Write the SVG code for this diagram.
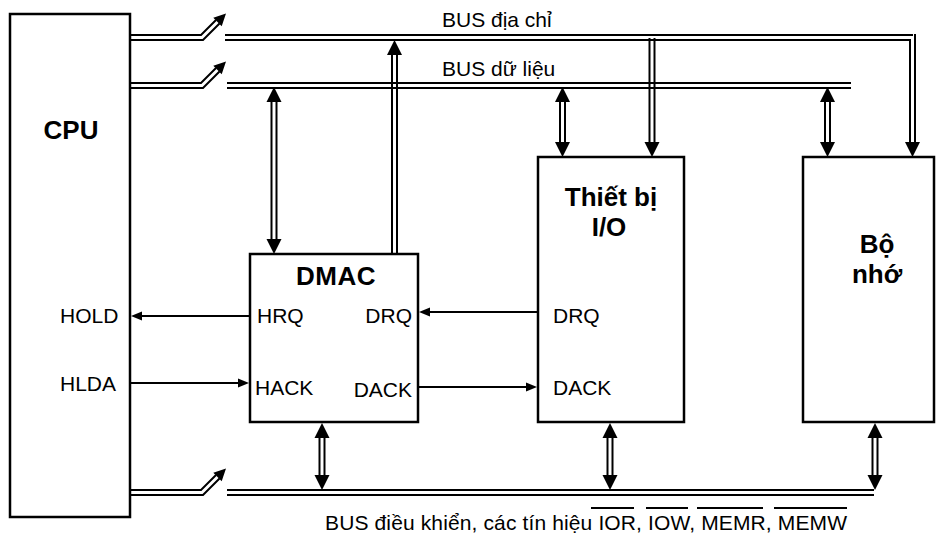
<svg xmlns="http://www.w3.org/2000/svg" xmlns:xlink="http://www.w3.org/1999/xlink" width="936" height="535" viewBox="0 0 936 535">
<style>
.ln{stroke:#000;stroke-width:2;fill:none}
.box{fill:#fff;stroke:#000;stroke-width:2.5}
.hd{fill:#000;stroke:none}
.t{font-family:"Liberation Sans",Arial,sans-serif;font-size:21px;fill:#000}
.tb{font-family:"Liberation Sans",Arial,sans-serif;font-size:26px;font-weight:bold;fill:#000}
</style>
<defs>
<polygon id="hu" class="hd" points="0,0 -7.5,15 7.5,15"/>
<polygon id="hdn" class="hd" points="0,0 -7.5,-15 7.5,-15"/>
<polygon id="hl" class="hd" points="0,0 11,-4.5 11,4.5"/>
<polygon id="hr" class="hd" points="0,0 -11,-4.5 -11,4.5"/>
<g id="stub">
<polyline class="ln" points="130,35 201,35 216,20"/>
<polyline class="ln" points="130,40 203,40 219.5,23.5"/>
<polygon class="hd" points="226,13.5 213.3,17.8 221.7,26.2"/>
</g>
</defs>
<g id="cpu">
<rect class="box" x="10" y="14" width="120" height="503"/>
<text class="tb" x="71" y="139" text-anchor="middle">CPU</text>
<text class="t" x="60" y="323">HOLD</text>
<text class="t" x="60" y="391">HLDA</text>
</g>
<g id="dmac">
<rect class="box" x="250" y="254" width="168" height="168"/>
<text class="tb" x="336" y="285" text-anchor="middle" letter-spacing="0.5">DMAC</text>
<text class="t" x="257" y="323">HRQ</text>
<text class="t" x="412" y="323" text-anchor="end">DRQ</text>
<text class="t" x="255" y="395">HACK</text>
<text class="t" x="412" y="397" text-anchor="end">DACK</text>
</g>
<g id="io">
<rect class="box" x="538" y="157" width="146" height="265"/>
<text class="tb" x="611" y="206" text-anchor="middle">Thiết bị</text>
<text class="tb" x="609" y="236" text-anchor="middle">I/O</text>
<text class="t" x="553" y="323">DRQ</text>
<text class="t" x="553" y="395">DACK</text>
</g>
<g id="mem">
<rect class="box" x="803" y="157" width="131" height="265"/>
<text class="tb" x="877" y="253" text-anchor="middle">Bộ</text>
<text class="tb" x="877" y="283" text-anchor="middle">nhớ</text>
</g>
<g id="connectors">
<use xlink:href="#stub"/>
<line class="ln" x1="225" y1="35" x2="913" y2="35"/>
<line class="ln" x1="225" y1="40" x2="910" y2="40"/>
<use xlink:href="#stub" transform="translate(0,48)"/>
<line class="ln" x1="227" y1="83" x2="851" y2="83"/>
<line class="ln" x1="227" y1="88" x2="851" y2="88"/>
<use xlink:href="#stub" transform="translate(0,455)"/>
<line class="ln" x1="227" y1="490" x2="874" y2="490"/>
<line class="ln" x1="227" y1="495" x2="874" y2="495"/>
<line class="ln" x1="271.5" y1="100" x2="271.5" y2="241"/>
<line class="ln" x1="276.5" y1="100" x2="276.5" y2="241"/>
<use xlink:href="#hu" x="274" y="87"/>
<use xlink:href="#hdn" x="274" y="254"/>
<line class="ln" x1="392" y1="53" x2="392" y2="254"/>
<line class="ln" x1="397" y1="53" x2="397" y2="254"/>
<use xlink:href="#hu" x="394.5" y="40"/>
<line class="ln" x1="560" y1="100" x2="560" y2="144"/>
<line class="ln" x1="565" y1="100" x2="565" y2="144"/>
<use xlink:href="#hu" x="562.5" y="87"/>
<use xlink:href="#hdn" x="562.5" y="157"/>
<line class="ln" x1="649.5" y1="38" x2="649.5" y2="144"/>
<line class="ln" x1="654.5" y1="38" x2="654.5" y2="144"/>
<use xlink:href="#hdn" x="652" y="157"/>
<line class="ln" x1="825" y1="100" x2="825" y2="144"/>
<line class="ln" x1="830" y1="100" x2="830" y2="144"/>
<use xlink:href="#hu" x="827.5" y="87"/>
<use xlink:href="#hdn" x="827.5" y="157"/>
<line class="ln" x1="910" y1="39" x2="910" y2="144"/>
<line class="ln" x1="915" y1="34" x2="915" y2="144"/>
<use xlink:href="#hdn" x="912.5" y="157"/>
<line class="ln" x1="319.5" y1="436" x2="319.5" y2="477"/>
<line class="ln" x1="324.5" y1="436" x2="324.5" y2="477"/>
<use xlink:href="#hu" x="322" y="423"/>
<use xlink:href="#hdn" x="322" y="490"/>
<line class="ln" x1="607.5" y1="436" x2="607.5" y2="477"/>
<line class="ln" x1="612.5" y1="436" x2="612.5" y2="477"/>
<use xlink:href="#hu" x="610" y="423"/>
<use xlink:href="#hdn" x="610" y="490"/>
<line class="ln" x1="872.5" y1="436" x2="872.5" y2="477"/>
<line class="ln" x1="877.5" y1="436" x2="877.5" y2="477"/>
<use xlink:href="#hu" x="875" y="423"/>
<use xlink:href="#hdn" x="875" y="490"/>
<line class="ln" x1="250" y1="316" x2="140" y2="316"/>
<use xlink:href="#hl" x="131" y="316"/>
<line class="ln" x1="131" y1="383" x2="240" y2="383"/>
<use xlink:href="#hr" x="249" y="383"/>
<line class="ln" x1="538" y1="312" x2="428" y2="312"/>
<use xlink:href="#hl" x="419" y="312"/>
<line class="ln" x1="419" y1="387" x2="528" y2="387"/>
<use xlink:href="#hr" x="537" y="387"/>
</g>
<g id="labels">
<text class="t" x="442" y="27">BUS địa chỉ</text>
<text class="t" x="442" y="76">BUS dữ liệu</text>
<text class="t" x="325" y="530" textLength="522" lengthAdjust="spacing">BUS điều khiển, các tín hiệu IOR, IOW, MEMR, MEMW</text>
<line class="ln" x1="591" y1="508" x2="634" y2="508"/>
<line class="ln" x1="646" y1="508" x2="688" y2="508"/>
<line class="ln" x1="697" y1="508" x2="763" y2="508"/>
<line class="ln" x1="774" y1="508" x2="847" y2="508"/>
</g>
</svg>
